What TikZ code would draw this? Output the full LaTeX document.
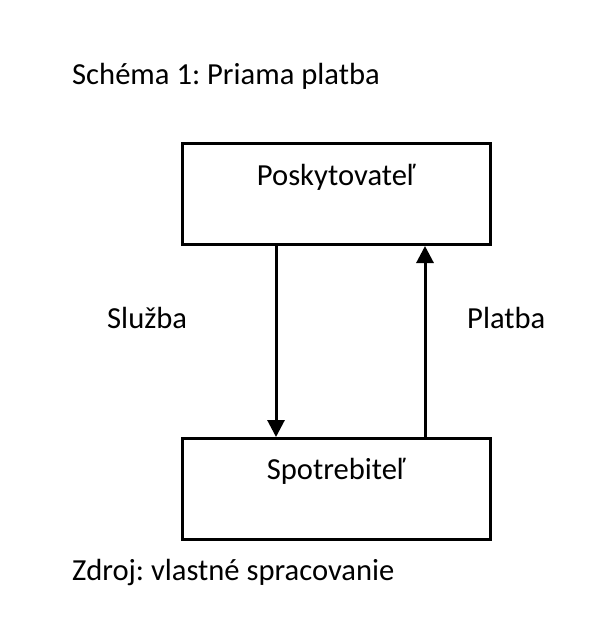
\documentclass[tikz,border=0pt]{standalone}
\usepackage{fontspec}
\setmainfont{Carlito}
\usetikzlibrary{arrows.meta}
\tikzset{
  lbl/.style={inner sep=0pt, anchor=base west, font=\fontsize{30.6}{34}\selectfont\frenchspacing},
  ctr/.style={inner sep=0pt, anchor=base, font=\fontsize{30.6}{34}\selectfont\frenchspacing},
  boxx/.style={draw, line width=3pt, minimum width=308pt, minimum height=101pt, inner sep=0pt},
  arr/.style={line width=3pt, -{Triangle[length=17pt,width=17pt]}}
}
\begin{document}
\begin{tikzpicture}[x=1pt,y=-1pt]
\useasboundingbox (0,0) rectangle (609,634);
\node[lbl] (title) at (72,84) {Schéma 1: Priama platba};
\node[boxx] (P) at (336,194) {};
\node[boxx] (S) at (336,489) {};
\node[ctr] (pt) at (336,185) {Poskytovateľ};
\node[ctr] (st) at (336,479) {Spotrebiteľ};
\coordinate (a1) at (276,194);
\coordinate (a2) at (425,194);
\draw[arr] (P.south -| a1) -- (S.north -| a1);
\draw[arr] (S.north -| a2) -- (P.south -| a2);
\node[lbl] (sl) at (107,328) {Služba};
\node[lbl] (pl) at (467,328) {Platba};
\node[lbl] (src) at (72,580) {Zdroj: vlastné spracovanie};
\end{tikzpicture}
\end{document}
